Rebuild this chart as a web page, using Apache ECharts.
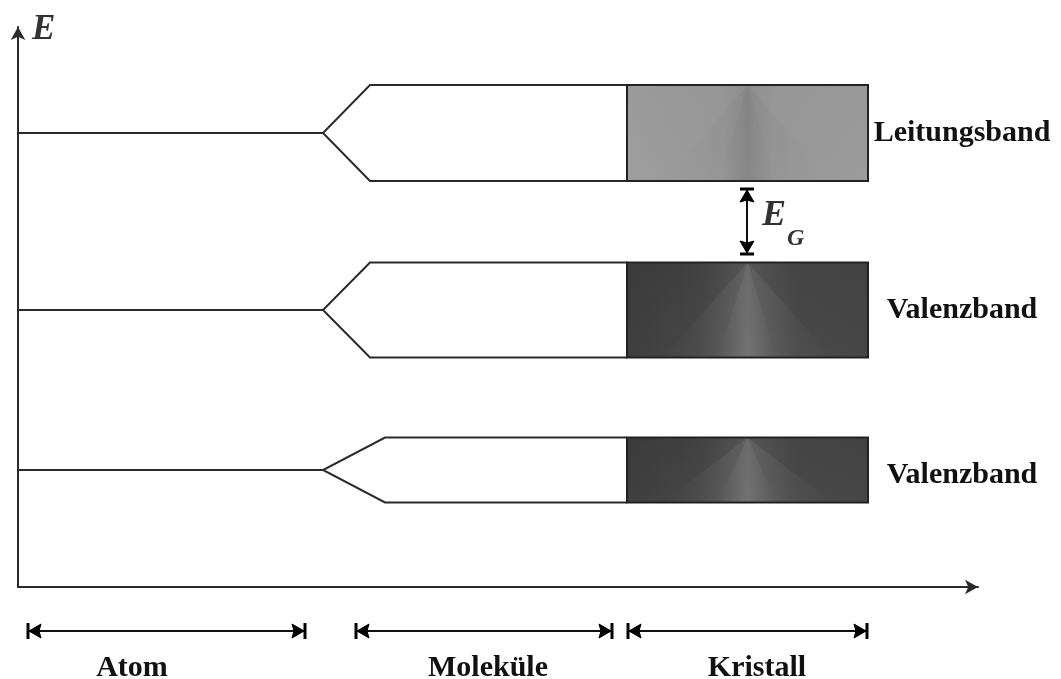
<!DOCTYPE html>
<html>
<head>
<meta charset="utf-8">
<script src="https://cdn.jsdelivr.net/npm/echarts@6/dist/echarts.min.js"></script>
<style>
  html, body { margin: 0; padding: 0; background: #ffffff; }
  #chart { width: 1061px; height: 679px; }
</style>
</head>
<body>
<div id="chart"></div>
<script>
// ---- Data (energy in arbitrary units, position along the stage axis) ----
const bandNames = ['Leitungsband', 'Valenzband', 'Valenzband'];
const bandLevels = [45.4, 27.7, 11.7];        // atomic level energy
const bandHalfWidths = [4.8, 4.75, 3.25];     // half width of the band
const bandCornerX = [35.2, 35.2, 36.7];       // where the split levels become horizontal
const splitX = [30.5];                        // end of the atomic level
const crystalRange = [60.9, 85.0];            // crystal stage extent
const bandLabelX = [94.4];
const bandLabelY = [45.4, 27.7, 11.2];

const stageNames = ['Atom', 'Moleküle', 'Kristall'];
const stageStart = [0.9, 33.7, 60.9];
const stageEnd = [28.8, 59.5, 85.0];
const stageLabelX = [11.4, 47.0, 73.9];
const stageArrowY = [-4.4];
const stageLabelY = [-8.1];

const gapArrowX = [72.9];
const gapArrowFrom = [39.9];
const gapArrowTo = [33.2];

const SERIF = '"Liberation Serif", "Times New Roman", serif';
const LINE = '#2a2a2a';

const chart = echarts.init(document.getElementById('chart'), null, { renderer: 'canvas' });

const bandData = bandLevels.map((v, i) => [v, bandHalfWidths[i], bandCornerX[i]]);
const stageData = stageStart.map((s, i) => [s, stageEnd[i], stageLabelX[i]]);

function bandRender(params, api) {
  const i = params.dataIndex;
  const lvl = api.value(0), hw = api.value(1), cx = api.value(2);
  const p = (x, y) => api.coord([x, y]);
  const xs = crystalRange[0], xe = crystalRange[1];
  const tl = p(xs, lvl + hw), br = p(xe, lvl - hw);
  const light = i === 0;
  const baseFill = light
    ? new echarts.graphic.LinearGradient(0, 0, 1, 0, [
        { offset: 0, color: '#9e9e9e' }, { offset: 0.4, color: '#989898' },
        { offset: 0.5, color: '#8f8f8f' }, { offset: 0.6, color: '#989898' },
        { offset: 1, color: '#9c9c9c' }])
    : new echarts.graphic.LinearGradient(0, 0, 1, 0, [
        { offset: 0, color: '#3f3f3f' }, { offset: 0.3, color: '#474747' },
        { offset: 0.5, color: '#5c5c5c' }, { offset: 0.7, color: '#4a4a4a' },
        { offset: 1, color: '#474747' }]);
  const mid = (tl[0] + br[0]) / 2, w = br[0] - tl[0];
  const coneFill = light
    ? new echarts.graphic.LinearGradient(0, 0, 1, 0, [
        { offset: 0, color: 'rgba(0,0,0,0)' }, { offset: 0.5, color: 'rgba(0,0,0,0.03)' },
        { offset: 1, color: 'rgba(0,0,0,0)' }])
    : new echarts.graphic.LinearGradient(0, 0, 1, 0, [
        { offset: 0, color: 'rgba(255,255,255,0)' }, { offset: 0.5, color: 'rgba(255,255,255,0.07)' },
        { offset: 1, color: 'rgba(255,255,255,0)' }]);
  const topShade = new echarts.graphic.LinearGradient(0, 0, 0, 1, [
        { offset: 0, color: light ? 'rgba(0,0,0,0.02)' : 'rgba(0,0,0,0.08)' },
        { offset: 1, color: 'rgba(0,0,0,0)' }]);
  const lblPos = p(bandLabelX[0], bandLabelY[i]);
  return {
    type: 'group',
    children: [
      { type: 'polyline', shape: { points: [p(0, lvl), p(splitX[0], lvl)] },
        style: { stroke: LINE, lineWidth: 2, fill: null } },
      { type: 'polyline', shape: { points: [p(xs, lvl + hw), p(cx, lvl + hw), p(splitX[0], lvl), p(cx, lvl - hw), p(xs, lvl - hw)] },
        style: { stroke: LINE, lineWidth: 2, fill: null } },
      { type: 'rect', shape: { x: tl[0], y: tl[1], width: w, height: br[1] - tl[1] },
        style: { fill: baseFill, stroke: 'none' } },
      { type: 'rect', shape: { x: tl[0], y: tl[1], width: w, height: br[1] - tl[1] },
        style: { fill: topShade, stroke: 'none' } },
      { type: 'polygon', shape: { points: [[mid, tl[1]], [mid - w * 0.35, br[1]], [mid + w * 0.35, br[1]]] },
        style: { fill: coneFill } },
      { type: 'polygon', shape: { points: [[mid, tl[1]], [mid - w * 0.12, br[1]], [mid + w * 0.12, br[1]]] },
        style: { fill: coneFill } },
      { type: 'rect', shape: { x: tl[0], y: tl[1], width: w, height: br[1] - tl[1] },
        style: { fill: null, stroke: '#222', lineWidth: 2 } },
      { type: 'text', x: lblPos[0], y: lblPos[1],
        style: { text: bandNames[i], fill: '#111', align: 'center', verticalAlign: 'middle',
                 font: 'bold 30px ' + SERIF } }
    ]
  };
}

function dimArrow(a, b, y, horizontal) {
  const els = [];
  if (horizontal) {
    els.push({ type: 'line', shape: { x1: a, y1: y, x2: b, y2: y }, style: { stroke: '#111', lineWidth: 2 } });
    els.push({ type: 'line', shape: { x1: a + 1, y1: y - 8, x2: a + 1, y2: y + 8 }, style: { stroke: '#000', lineWidth: 3 } });
    els.push({ type: 'line', shape: { x1: b - 1, y1: y - 8, x2: b - 1, y2: y + 8 }, style: { stroke: '#000', lineWidth: 3 } });
    els.push({ type: 'polygon', shape: { points: [[a + 2, y], [a + 14, y - 7], [a + 12, y], [a + 14, y + 7]] }, style: { fill: '#000', stroke: '#000', lineWidth: 1 } });
    els.push({ type: 'polygon', shape: { points: [[b - 2, y], [b - 14, y - 7], [b - 12, y], [b - 14, y + 7]] }, style: { fill: '#000', stroke: '#000', lineWidth: 1 } });
  } else {
    els.push({ type: 'line', shape: { x1: y, y1: a, x2: y, y2: b }, style: { stroke: '#111', lineWidth: 2 } });
    els.push({ type: 'line', shape: { x1: y - 7, y1: a + 1, x2: y + 7, y2: a + 1 }, style: { stroke: '#000', lineWidth: 3 } });
    els.push({ type: 'line', shape: { x1: y - 7, y1: b - 1, x2: y + 7, y2: b - 1 }, style: { stroke: '#000', lineWidth: 3 } });
    els.push({ type: 'polygon', shape: { points: [[y, a + 2], [y - 7, a + 14], [y, a + 12], [y + 7, a + 14]] }, style: { fill: '#000', stroke: '#000', lineWidth: 1 } });
    els.push({ type: 'polygon', shape: { points: [[y, b - 2], [y - 7, b - 14], [y, b - 12], [y + 7, b - 14]] }, style: { fill: '#000', stroke: '#000', lineWidth: 1 } });
  }
  return els;
}

function stageRender(params, api) {
  const i = params.dataIndex;
  const s = api.coord([api.value(0), stageArrowY[0]]);
  const e = api.coord([api.value(1), stageArrowY[0]]);
  const l = api.coord([api.value(2), stageLabelY[0]]);
  const children = dimArrow(s[0], e[0], s[1], true);
  children.push({ type: 'text', x: l[0], y: l[1],
    style: { text: stageNames[i], fill: '#111', align: 'center', verticalAlign: 'middle', font: 'bold 30px ' + SERIF } });
  return { type: 'group', children };
}

function gapRender(params, api) {
  const top = api.coord([api.value(0), api.value(1)]);
  const bot = api.coord([api.value(0), api.value(2)]);
  const children = dimArrow(top[1], bot[1], top[0], false);
  const midY = (top[1] + bot[1]) / 2;
  children.push({ type: 'text', x: top[0] + 15, y: midY - 6,
    style: { text: 'E', fill: '#333', align: 'left', verticalAlign: 'middle', font: 'italic bold 36px ' + SERIF } });
  children.push({ type: 'text', x: top[0] + 40, y: midY + 17,
    style: { text: 'G', fill: '#333', align: 'left', verticalAlign: 'middle', font: 'italic bold 24px ' + SERIF } });
  return { type: 'group', children };
}

const option = {
  animation: false,
  backgroundColor: '#ffffff',
  grid: { left: 18, right: 83, top: 27, bottom: 92 },
  xAxis: {
    type: 'value', min: 0, max: 96,
    axisLine: { show: true, onZero: false, symbol: ['none', 'arrow'], symbolSize: [11, 13],
                lineStyle: { color: LINE, width: 2 } },
    axisTick: { show: false }, axisLabel: { show: false }, splitLine: { show: false }
  },
  yAxis: {
    type: 'value', min: 0, max: 56,
    name: 'E', nameLocation: 'end', nameGap: -3,
    nameTextStyle: { align: 'left', verticalAlign: 'middle', padding: [0, 0, 0, 14],
                     fontFamily: SERIF, fontSize: 35, fontStyle: 'italic', fontWeight: 'bold', color: '#333' },
    axisLine: { show: true, onZero: false, symbol: ['none', 'arrow'], symbolSize: [11, 13],
                lineStyle: { color: LINE, width: 2 } },
    axisTick: { show: false }, axisLabel: { show: false }, splitLine: { show: false }
  },
  series: [
    { type: 'custom', renderItem: bandRender, data: bandData, clip: false, silent: true },
    { type: 'custom', renderItem: stageRender, data: stageData, clip: false, silent: true },
    { type: 'custom', renderItem: gapRender, data: [[gapArrowX[0], gapArrowFrom[0], gapArrowTo[0]]], clip: false, silent: true }
  ]
};
chart.setOption(option);
</script>
</body>
</html>
